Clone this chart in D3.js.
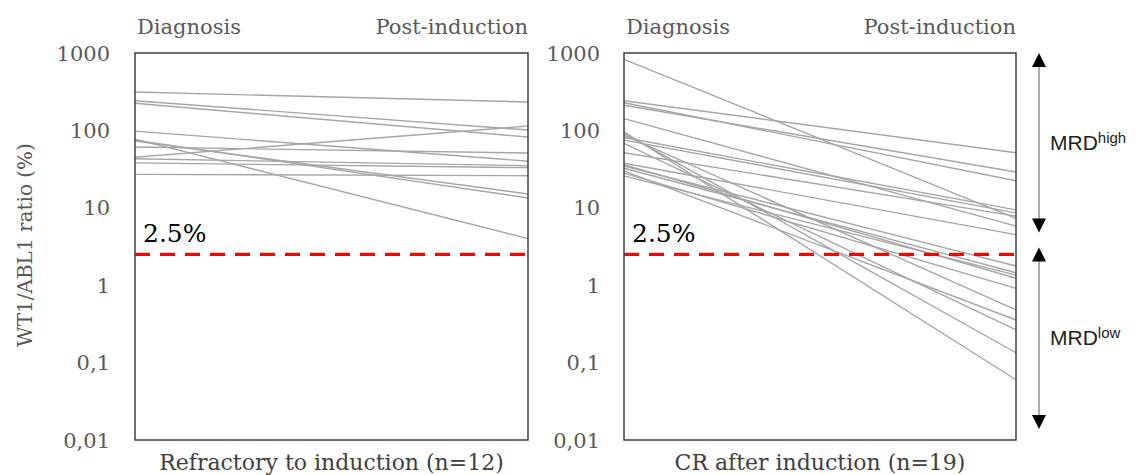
<!DOCTYPE html>
<html><head><meta charset="utf-8">
<script src="https://cdn.jsdelivr.net/npm/d3@7"></script>
<style>body{margin:0;background:#fff}svg{display:block}</style>
</head><body>
<svg id="c" width="1140" height="475"></svg>
<script>
const timepoints = ["Diagnosis", "Post-induction"];
const yTicks = [0.01, 0.1, 1, 10, 100, 1000];
const yTickLabels = ["0,01", "0,1", "1", "10", "100", "1000"];
const threshold = 2.5;
const thresholdLabel = "2.5%";
const yTitle = "WT1/ABL1 ratio (%)";
// Refractory to induction (n=12): [diagnosis, post-induction]
const refractoryDiag = [313, 242, 224, 98, 77, 75, 73, 61, 45, 43, 38, 27];
const refractoryPost = [233, 101, 82, 40, 4.0, 13.4, 15.1, 51, 114, 35, 33, 26];
// CR after induction (n=19)
const crDiag = [829, 242, 228, 211, 142, 96, 92, 87, 81, 75, 68, 51.5, 37.6, 36, 34.7, 32.4, 30, 28, 25.8];
const crPost = [7.3, 51.5, 22.4, 29, 5.8, 0.060, 0.134, 0.48, 9.4, 8.6, 0.264, 7.8, 4.5, 1.23, 1.77, 1.45, 0.355, 0.91, 1.35];
const panelTitles = ["Refractory to induction (n=12)", "CR after induction (n=19)"];
const mrdLabels = [["MRD", "high"], ["MRD", "low"]];

const svg = d3.select("#c");
const serif = "'DejaVu Serif', serif";
const y = d3.scaleLog().domain([0.01, 1000]).range([440, 53]);

const panels = [
  {x0: 135, x1: 528, diag: refractoryDiag, post: refractoryPost, title: panelTitles[0], labelX: 110},
  {x0: 624, x1: 1016, diag: crDiag, post: crPost, title: panelTitles[1], labelX: 600}
];

panels.forEach(p => {
  const x = d3.scalePoint().domain(timepoints).range([p.x0, p.x1]);
  const g = svg.append("g");
  g.selectAll("text.tick").data(yTicks).join("text")
    .attr("x", p.labelX).attr("y", d => y(d)).attr("dy", "0.36em")
    .attr("text-anchor", "end").attr("font-family", serif).attr("font-size", 21)
    .attr("fill", "#595959").text((d, i) => yTickLabels[i]);
  const data = p.diag.map((d, i) => [d, p.post[i]]);
  const line = d3.line().x((d, i) => x(timepoints[i])).y(d => y(d));
  g.selectAll("path.ln").data(data).join("path")
    .attr("d", line).attr("fill", "none").attr("stroke", "#a6a6a6").attr("stroke-width", 1.4);
  g.append("line").attr("x1", p.x0).attr("x2", p.x1).attr("y1", y(threshold)).attr("y2", y(threshold))
    .attr("stroke", "#ff0000").attr("stroke-width", 3.2).attr("stroke-dasharray", "15,10");
  g.append("text").attr("x", p.x0 + 8).attr("y", y(threshold) - 12)
    .attr("font-family", serif).attr("font-size", 25).attr("fill", "#000").text(thresholdLabel);
  g.append("rect").attr("x", p.x0).attr("y", y(1000)).attr("width", p.x1 - p.x0).attr("height", y(0.01) - y(1000))
    .attr("fill", "none").attr("stroke", "#404040").attr("stroke-width", 1.5);
  g.append("text").attr("x", p.x0 + 2).attr("y", 34).attr("font-family", serif).attr("font-size", 21)
    .attr("fill", "#595959").text(timepoints[0]);
  g.append("text").attr("x", p.x1).attr("y", 34).attr("text-anchor", "end").attr("font-family", serif)
    .attr("font-size", 21).attr("fill", "#595959").text(timepoints[1]);
  g.append("text").attr("x", (p.x0 + p.x1) / 2).attr("y", 470).attr("text-anchor", "middle")
    .attr("font-family", serif).attr("font-size", 22).attr("fill", "#404040").text(p.title);
});

svg.append("text").attr("transform", "translate(32,245) rotate(-90)").attr("text-anchor", "middle")
  .attr("font-family", serif).attr("font-size", 20).attr("fill", "#595959").text(yTitle);

// MRD arrows
const ax = 1039;
const arrows = [[y(1000), y(threshold) - 22], [y(threshold) - 7, y(0.01) - 11]];
arrows.forEach(([t, b], i) => {
  svg.append("line").attr("x1", ax).attr("x2", ax).attr("y1", t + 10).attr("y2", b - 10)
    .attr("stroke", "#909090").attr("stroke-width", 1.5);
  svg.append("path").attr("d", `M${ax},${t} L${ax - 7},${t + 14} L${ax + 7},${t + 14} Z`).attr("fill", "#000");
  svg.append("path").attr("d", `M${ax},${b} L${ax - 7},${b - 14} L${ax + 7},${b - 14} Z`).attr("fill", "#000");
  const tx = svg.append("text").attr("x", 1050).attr("y", (t + b) / 2 + 7)
    .attr("font-family", "'Liberation Sans', sans-serif").attr("font-size", 21).attr("fill", "#222");
  tx.append("tspan").text(mrdLabels[i][0]);
  tx.append("tspan").attr("font-size", 15).attr("dy", -7).text(mrdLabels[i][1]);
});
</script>
</body></html>
